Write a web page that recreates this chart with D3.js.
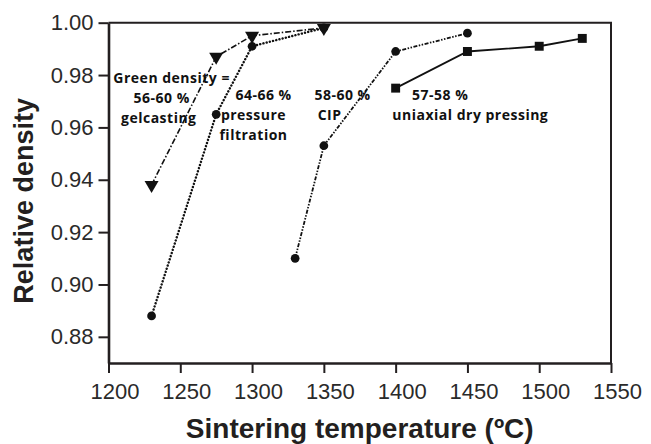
<!DOCTYPE html>
<html>
<head>
<meta charset="utf-8">
<script src="https://cdn.jsdelivr.net/npm/d3@7"></script>
<style>
  body { margin: 0; background: #fff; }
  svg { display: block; }
  .note { font-family: "Open Sans", Lato, sans-serif; font-weight: 700; font-size: 14px; letter-spacing: 0.5px; fill: #111; }
</style>
</head>
<body>
<svg width="651" height="444"></svg>
<script>
// Sintering temperature (deg C) vs relative density, per forming method
const gelTemp = [1230, 1275, 1300, 1350];
const gelDens = [0.938, 0.987, 0.995, 0.998];

const pfTemp = [1230, 1275, 1300, 1350];
const pfDens = [0.888, 0.965, 0.991, 0.998];

const cipTemp = [1330, 1350, 1400, 1450];
const cipDens = [0.910, 0.953, 0.989, 0.996];

const udpTemp = [1400, 1450, 1500, 1530];
const udpDens = [0.975, 0.989, 0.991, 0.994];

const xTicks = [1200, 1250, 1300, 1350, 1400, 1450, 1500, 1550];
const yTicks = [0.88, 0.90, 0.92, 0.94, 0.96, 0.98, 1.00];

// annotation text placed in data units (centre x, baseline y)
const notes = [
  ["Green density =", 1244, 0.9770],
  ["56-60 %", 1237, 0.9693],
  ["gelcasting", 1235, 0.9617],
  ["64-66 %", 1308, 0.9705],
  ["pressure", 1301, 0.9628],
  ["filtration", 1301, 0.9552],
  ["58-60 %", 1363, 0.9705],
  ["CIP", 1354, 0.9628],
  ["57-58 %", 1431, 0.9705],
  ["uniaxial dry pressing", 1452, 0.9628],
];

const svg = d3.select("svg");
const ink = "#231f20";

const x = d3.scaleLinear().domain([1200, 1550]).range([108.5, 611]);
const y = d3.scaleLinear().domain([0.87, 1.0]).range([363, 22.7]);

// frame: top and right borders
svg.append("path")
  .attr("d", `M${x(1200)},${y(1.0)}H${x(1550)}V${y(0.87)}`)
  .attr("fill", "none")
  .attr("stroke", ink)
  .attr("stroke-width", 2);

// axes
const xAxis = svg.append("g")
  .attr("transform", `translate(0,${y(0.87)})`)
  .call(d3.axisBottom(x).tickValues(xTicks).tickFormat(d3.format("d")).tickSize(10).tickSizeOuter(0));
const yAxis = svg.append("g")
  .attr("transform", `translate(${x(1200)},0)`)
  .call(d3.axisLeft(y).tickValues(yTicks).tickFormat(d3.format(".2f")).tickSize(10).tickSizeOuter(0));

[xAxis, yAxis].forEach((g) => {
  g.select(".domain").attr("stroke", ink).attr("stroke-width", 2.6);
  g.selectAll(".tick line").attr("stroke", ink).attr("stroke-width", 2);
  g.selectAll(".tick text")
    .attr("fill", "#2a2a2a")
    .attr("font-family", "'Liberation Sans', Arial, sans-serif")
    .attr("font-size", "22px");
});
xAxis.selectAll(".tick text").attr("dy", "1.05em").attr("dx", 6);
yAxis.selectAll(".tick text").attr("dx", -2);

// axis titles
svg.append("text")
  .attr("x", (x(1200) + x(1550)) / 2)
  .attr("y", 438)
  .attr("text-anchor", "middle")
  .attr("font-family", "'Liberation Sans', Arial, sans-serif")
  .attr("font-weight", "bold")
  .attr("font-size", "28px")
  .attr("fill", ink)
  .text("Sintering temperature (ºC)");

svg.append("text")
  .attr("transform", `translate(33,${(y(0.87) + y(1.0)) / 2 + 8}) rotate(-90)`)
  .attr("text-anchor", "middle")
  .attr("font-family", "'Liberation Sans', Arial, sans-serif")
  .attr("font-weight", "bold")
  .attr("font-size", "27px")
  .attr("fill", ink)
  .text("Relative density");

const line = d3.line().x((d) => x(d[0])).y((d) => y(d[1]));

function drawSeries(temps, dens, opts) {
  const pts = temps.map((t, i) => [t, dens[i]]);
  svg.append("path")
    .datum(pts)
    .attr("d", line)
    .attr("fill", "none")
    .attr("stroke", "#111")
    .attr("stroke-width", opts.width)
    .attr("stroke-dasharray", opts.dash)
    .attr("stroke-linecap", opts.cap || "butt");
  const sym = d3.symbol().type(opts.symbol).size(opts.size);
  svg.append("g")
    .selectAll("path")
    .data(pts)
    .join("path")
    .attr("transform", (d) => `translate(${x(d[0])},${y(d[1])})${opts.rot ? " rotate(180)" : ""}`)
    .attr("d", sym)
    .attr("fill", "#111");
}

drawSeries(pfTemp, pfDens, { width: 2.4, dash: "0.1 3.2", cap: "round", symbol: d3.symbolCircle, size: 60 });
drawSeries(cipTemp, cipDens, { width: 1.8, dash: "4 1.5 1.5 1.5 1.5 1.5", symbol: d3.symbolCircle, size: 60 });
drawSeries(udpTemp, udpDens, { width: 1.8, dash: null, symbol: d3.symbolSquare, size: 80 });
drawSeries(gelTemp, gelDens, { width: 1.6, dash: "6 2 1.5 2", symbol: d3.symbolTriangle, size: 85, rot: true });

svg.append("g")
  .selectAll("text")
  .data(notes)
  .join("text")
  .attr("class", "note")
  .attr("x", (d) => x(d[1]))
  .attr("y", (d) => y(d[2]))
  .attr("text-anchor", "middle")
  .text((d) => d[0]);
</script>
</body>
</html>
